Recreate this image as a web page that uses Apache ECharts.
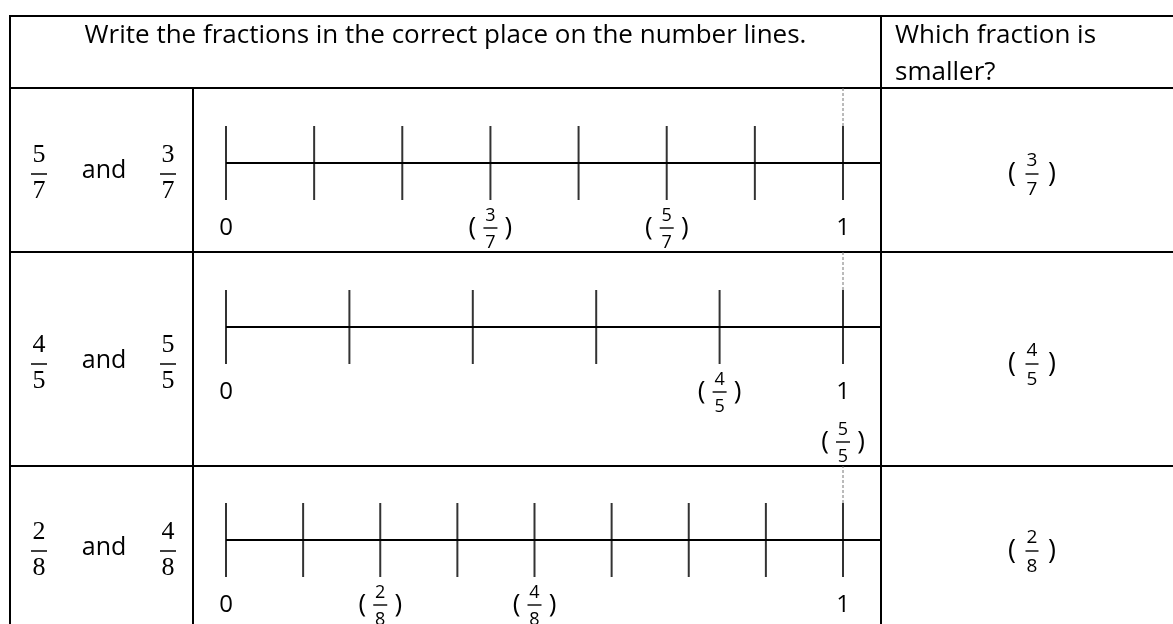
<!DOCTYPE html>
<html>
<head>
<meta charset="utf-8">
<script src="https://cdn.jsdelivr.net/npm/echarts@6/dist/echarts.min.js"></script>
<style>
    html, body { margin: 0; padding: 0; background: #fff; }
    #main { width: 1173px; height: 624px; }
</style>
</head>
<body>
<div id="main"></div>
<script>
// fractions to compare, one pair per row
var firstFractions = [[5, 7], [4, 5], [2, 8]];
var secondFractions = [[3, 7], [5, 5], [4, 8]];
// number of equal parts on each number line
var denominators = [7, 5, 8];
// answer column
var smallerFractions = [[3, 7], [4, 5], [2, 8]];
var endLabels = ['0', '1'];
var headerText = 'Write the fractions in the correct place on the number lines.';
var questionLines = ['Which fraction is', 'smaller?'];

// table layout (pixels)
var rows = [
    { top: 88, bottom: 252, line: 163 },
    { top: 252, bottom: 466, line: 327 },
    { top: 466, bottom: 624, line: 540 }
];
var colLeft = 10, colMid = 193, colRight = 881, pageRight = 1173, tableTop = 16;
var zeroX = 226, oneX = 843;
var unit = oneX - zeroX;
var tickHalf = 37;
var labelY = -65, secondLabelY = -115;

var sans = 'Open Sans';
var serif = 'Liberation Serif';

function txt(x, y, text, size, family, align) {
    return {
        type: 'text', x: x, y: y, silent: true,
        style: {
            text: text, fontSize: size, fontFamily: family, fill: '#000',
            align: align || 'center', textAlign: align || 'center',
            verticalAlign: 'middle', textVerticalAlign: 'middle'
        }
    };
}

function hline(x1, x2, y, w) {
    return { type: 'line', silent: true, shape: { x1: x1, y1: y, x2: x2, y2: y }, style: { stroke: '#000', lineWidth: w || 2 } };
}

function vline(x, y1, y2, w) {
    return { type: 'line', silent: true, shape: { x1: x, y1: y1, x2: x, y2: y2 }, style: { stroke: '#000', lineWidth: w || 2 } };
}

// stacked fraction, cy = fraction bar
function fracParts(cx, cy, num, den, o) {
    var parts = [
        txt(cx, cy - o.up, String(num), o.size, o.font),
        hline(cx - o.bar / 2, cx + o.bar / 2, cy, o.lw),
        txt(cx, cy + o.down, String(den), o.size, o.font)
    ];
    if (o.paren) {
        parts.push(txt(cx - o.paren, cy, '(', o.parenSize, o.font));
        parts.push(txt(cx + o.paren, cy, ')', o.parenSize, o.font));
    }
    return parts;
}

var bigFrac = { up: 19, down: 17, size: 26, font: serif, bar: 16, lw: 1.5 };
var smallFrac = { up: 12, down: 15, size: 18, font: sans, bar: 14, lw: 1.4, paren: 18, parenSize: 26 };
var answerFrac = { up: 13, down: 16, size: 19, font: sans, bar: 13, lw: 1.4, paren: 20, parenSize: 27 };

// table lines and fixed text
var elements = [];
elements.push(hline(colLeft, pageRight, tableTop));
elements.push(hline(colLeft, pageRight, rows[0].top));
elements.push(hline(colLeft, pageRight, rows[1].top));
elements.push(hline(colLeft, pageRight, rows[2].top));
elements.push(vline(colLeft, tableTop - 1, 624));
elements.push(vline(colMid, rows[0].top, 624));
elements.push(vline(colRight, tableTop, 624));
elements.push(txt((colLeft + colRight) / 2, 36, headerText, 26, sans));
elements.push(txt(895, 36, questionLines[0], 26, sans, 'left'));
elements.push(txt(895, 73, questionLines[1], 26, sans, 'left'));

rows.forEach(function (r, i) {
    var barY = r.line + (i === 1 ? 37 : 11);
    elements = elements.concat(fracParts(39, barY, firstFractions[i][0], firstFractions[i][1], bigFrac));
    elements.push(txt(104, barY - 3, 'and', 25, sans));
    elements = elements.concat(fracParts(168, barY, secondFractions[i][0], secondFractions[i][1], bigFrac));
    elements = elements.concat(fracParts(1032, barY, smallerFractions[i][0], smallerFractions[i][1], answerFrac));
});

// number lines: one grid per row
var grids = [], xAxes = [], yAxes = [], series = [];
var xMin = -(zeroX - colMid) / unit, xMax = (colRight - zeroX) / unit;

rows.forEach(function (r, i) {
    var den = denominators[i];
    grids.push({ left: colMid, top: r.top, width: colRight - colMid, height: r.bottom - r.top });
    xAxes.push({ type: 'value', gridIndex: i, min: xMin, max: xMax, show: false });
    yAxes.push({ type: 'value', gridIndex: i, min: -(r.bottom - r.line), max: r.line - r.top, show: false });

    var ticks = [];
    for (var k = 0; k <= den; k++) ticks.push([k / den, 0]);

    var placed = [firstFractions[i], secondFractions[i]].map(function (f) {
        return [f[0] / f[1], f[0] === f[1] ? secondLabelY : labelY, f[0], f[1]];
    });

    series.push({
        type: 'line', xAxisIndex: i, yAxisIndex: i, data: [[0, 0], [xMax, 0]],
        symbol: 'none', silent: true, lineStyle: { color: '#000', width: 2 }
    });
    series.push({
        type: 'line', xAxisIndex: i, yAxisIndex: i, data: [[1, tickHalf], [1, r.line - r.top]],
        symbol: 'none', silent: true, lineStyle: { color: '#777', width: 1, type: [3, 2] }
    });
    series.push({
        type: 'scatter', xAxisIndex: i, yAxisIndex: i, data: ticks,
        symbol: 'rect', symbolSize: [2, tickHalf * 2], silent: true, itemStyle: { color: '#000' }
    });
    series.push({
        type: 'custom', xAxisIndex: i, yAxisIndex: i, silent: true, clip: true,
        data: [[0, labelY], [1, labelY]],
        renderItem: function (params, api) {
            var p = api.coord([api.value(0), api.value(1)]);
            return txt(p[0], p[1], endLabels[params.dataIndex], 24, sans);
        }
    });
    series.push({
        type: 'custom', xAxisIndex: i, yAxisIndex: i, silent: true, clip: true,
        data: placed,
        renderItem: function (params, api) {
            var p = api.coord([api.value(0), api.value(1)]);
            return { type: 'group', children: fracParts(p[0], p[1], api.value(2), api.value(3), smallFrac) };
        }
    });
});

var chart = echarts.init(document.getElementById('main'));
chart.setOption({
    animation: false,
    grid: grids,
    xAxis: xAxes,
    yAxis: yAxes,
    series: series,
    graphic: { elements: elements }
});
</script>
</body>
</html>
